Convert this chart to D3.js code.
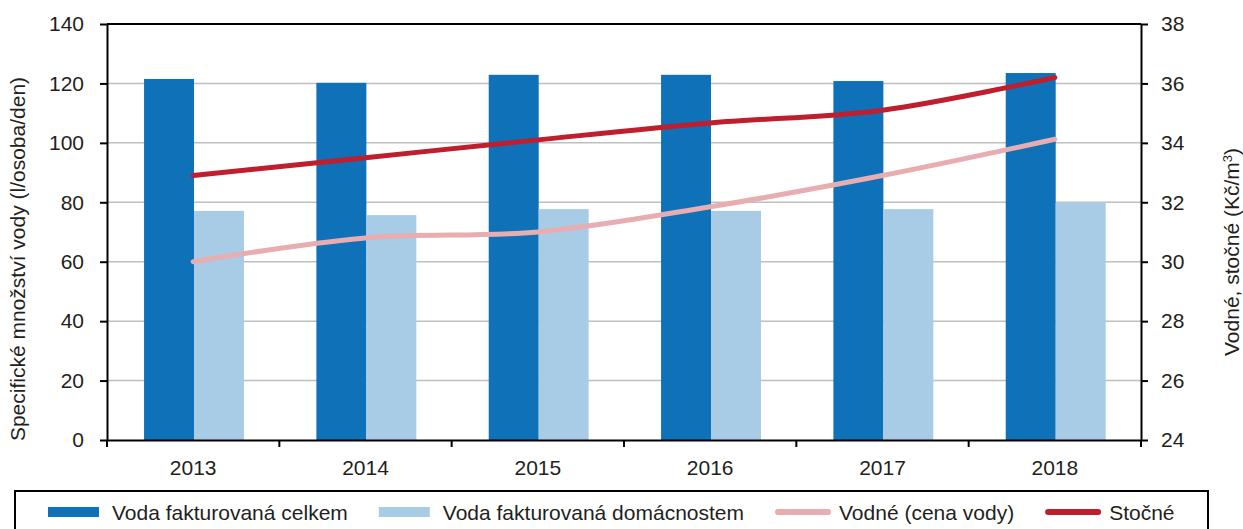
<!DOCTYPE html>
<html>
<head>
<meta charset="utf-8">
<script src="https://cdn.jsdelivr.net/npm/d3@7"></script>
<style>
  body { margin: 0; background: #fff; }
  text { font-family: "Liberation Sans", Arial, sans-serif; fill: #231f20; }
</style>
</head>
<body>
<div id="chart"></div>
<script>
const years = ['2013', '2014', '2015', '2016', '2017', '2018'];
const celkem = [121.5, 120.2, 122.9, 122.9, 120.8, 123.5];
const domacnosti = [77.1, 75.7, 77.7, 77.1, 77.7, 79.9];
const vodne = [30.0, 30.8, 31.0, 31.85, 32.9, 34.12];
const stocne = [32.9, 33.5, 34.1, 34.67, 35.1, 36.2];
const leftTicks = [0, 20, 40, 60, 80, 100, 120, 140];
const rightTicks = [24, 26, 28, 30, 32, 34, 36, 38];
const legendLabels = ['Voda fakturovaná celkem', 'Voda fakturovaná domácnostem', 'Vodné (cena vody)', 'Stočné'];

const width = 1243, height = 529;
const plotL = 107, plotR = 1141, plotT = 24, plotB = 440;
const colors = { celkem: '#0f71b8', dom: '#a9cce6', vodne: '#e8adb1', stocne: '#be1e2d' };

const svg = d3.select('#chart').append('svg')
    .attr('width', width)
    .attr('height', height);

const x0 = d3.scaleBand().domain(years).range([plotL, plotR]);
const bw = x0.bandwidth();
const x1 = d3.scaleBand().domain(['celkem', 'dom']).range([bw * 0.215, bw * 0.795]);
const y = d3.scaleLinear().domain([0, 140]).range([plotB, plotT]);
const y2 = d3.scaleLinear().domain([24, 38]).range([plotB, plotT]);

// gridlines
svg.append('g').selectAll('line')
    .data(leftTicks.filter(t => t > 0 && t < 140))
    .enter().append('line')
    .attr('x1', plotL).attr('x2', plotR)
    .attr('y1', d => y(d)).attr('y2', d => y(d))
    .attr('stroke', '#bfbfbf').attr('stroke-width', 1.5);

// bars
const barData = [
    { key: 'celkem', values: celkem, color: colors.celkem },
    { key: 'dom', values: domacnosti, color: colors.dom }
];
barData.forEach(s => {
    svg.append('g').selectAll('rect')
        .data(s.values)
        .enter().append('rect')
        .attr('x', (d, i) => x0(years[i]) + x1(s.key))
        .attr('y', d => y(d))
        .attr('width', x1.bandwidth())
        .attr('height', d => plotB - y(d))
        .attr('fill', s.color);
});

// lines
const lineGen = d3.line()
    .x((d, i) => x0(years[i]) + bw / 2)
    .y(d => y2(d))
    .curve(d3.curveCardinal.tension(0));

[[vodne, colors.vodne], [stocne, colors.stocne]].forEach(([vals, c]) => {
    svg.append('path')
        .datum(vals)
        .attr('d', lineGen)
        .attr('fill', 'none')
        .attr('stroke', c)
        .attr('stroke-width', 5)
        .attr('stroke-linecap', 'round')
        .attr('stroke-linejoin', 'round');
});

// frame top
svg.append('line')
    .attr('x1', plotL).attr('x2', plotR)
    .attr('y1', plotT).attr('y2', plotT)
    .attr('stroke', '#000').attr('stroke-width', 2);

// axes
const fontSize = '21px';
const gLeft = svg.append('g')
    .attr('transform', `translate(${plotL},0)`)
    .call(d3.axisLeft(y).tickValues(leftTicks).tickSize(7).tickPadding(16).tickSizeOuter(0));
const gRight = svg.append('g')
    .attr('transform', `translate(${plotR},0)`)
    .call(d3.axisRight(y2).tickValues(rightTicks).tickSize(7).tickPadding(13).tickSizeOuter(0));
const gBottom = svg.append('g')
    .attr('transform', `translate(0,${plotB})`)
    .call(d3.axisBottom(x0).tickSize(0).tickPadding(20).tickSizeOuter(0));

[gLeft, gRight, gBottom].forEach(g => {
    g.select('.domain').attr('stroke', '#000').attr('stroke-width', 2);
    g.selectAll('.tick line').attr('stroke', '#000').attr('stroke-width', 2);
    g.selectAll('.tick text')
        .attr('font-size', fontSize)
        .attr('font-family', '"Liberation Sans", Arial, sans-serif')
        .attr('fill', '#231f20');
});

// category separators on the x axis
const sepPos = years.map(yr => x0(yr)).concat([plotR]);
svg.append('g').selectAll('line')
    .data(sepPos)
    .enter().append('line')
    .attr('x1', d => d).attr('x2', d => d)
    .attr('y1', plotB).attr('y2', plotB + 7)
    .attr('stroke', '#000').attr('stroke-width', 2);

// axis titles
svg.append('text')
    .attr('transform', 'translate(25,259) rotate(-90)')
    .attr('text-anchor', 'middle')
    .attr('font-size', fontSize)
    .text('Specifické množství vody (l/osoba/den)');

const rt = svg.append('text')
    .attr('transform', 'translate(1239,252) rotate(-90)')
    .attr('text-anchor', 'middle')
    .attr('font-size', fontSize);
rt.append('tspan').text('Vodné, stočné (Kč/m');
rt.append('tspan').attr('font-size', '13px').attr('dy', '-7').text('3');
rt.append('tspan').attr('dy', '7').text(')');

// legend
svg.append('rect')
    .attr('x', 15).attr('y', 491)
    .attr('width', 1208 - 15).attr('height', 60)
    .attr('fill', 'none')
    .attr('stroke', '#000').attr('stroke-width', 2);

let lx = 48;
const legendY = 512;
legendLabels.forEach((label, i) => {
    if (i < 2) {
        svg.append('rect')
            .attr('x', lx).attr('y', legendY - 5)
            .attr('width', 51).attr('height', 10)
            .attr('fill', i === 0 ? colors.celkem : colors.dom);
    } else {
        svg.append('line')
            .attr('x1', lx + 3).attr('x2', lx + 53)
            .attr('y1', legendY).attr('y2', legendY)
            .attr('stroke', i === 2 ? colors.vodne : colors.stocne)
            .attr('stroke-width', 6)
            .attr('stroke-linecap', 'round');
    }
    const t = svg.append('text')
        .attr('x', lx + 64)
        .attr('y', legendY + 8)
        .attr('font-size', fontSize)
        .text(label);
    lx = lx + 64 + t.node().getComputedTextLength() + 31;
});
</script>
</body>
</html>
